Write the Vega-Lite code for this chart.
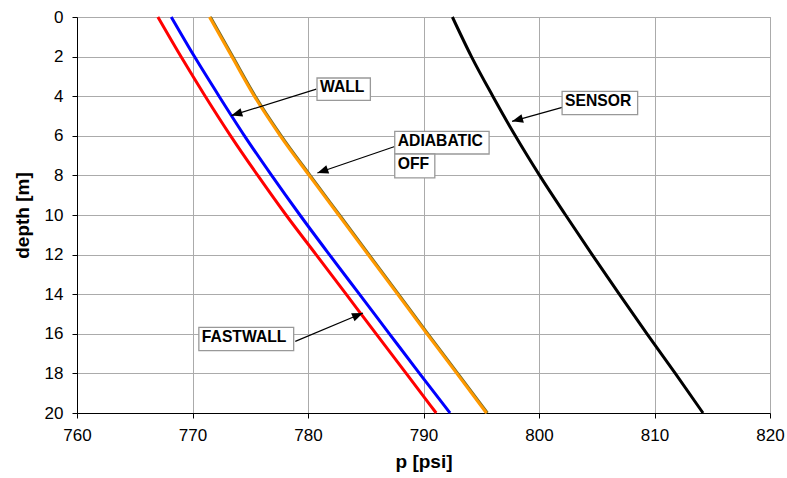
{
  "$schema": "https://vega.github.io/schema/vega-lite/v6.json",
  "width": 693,
  "height": 396,
  "autosize": {"type": "none"},
  "padding": {"left": 77, "top": 17, "right": 17, "bottom": 65},
  "config": {
    "font": "Liberation Sans",
    "view": {"stroke": "#a0a0a0", "strokeWidth": 1},
    "axis": {
      "domainColor": "#000000",
      "domainWidth": 1,
      "tickColor": "#000000",
      "tickSize": 5,
      "labelFontSize": 17,
      "labelColor": "#000000",
      "labelFont": "Liberation Sans",
      "labelFlush": false,
      "gridColor": "#ababab",
      "gridWidth": 1,
      "titleFont": "Liberation Sans",
      "titleFontSize": 19,
      "titleFontWeight": "bold",
      "titleColor": "#000000"
    }
  },
  "datasets": {
    "profiles": [
      {"series": "ADIABATIC", "depth": 0, "p": 771.55},
      {"series": "ADIABATIC", "depth": 2, "p": 773.48},
      {"series": "ADIABATIC", "depth": 4, "p": 775.43},
      {"series": "ADIABATIC", "depth": 6, "p": 777.68},
      {"series": "ADIABATIC", "depth": 8, "p": 780.18},
      {"series": "ADIABATIC", "depth": 10, "p": 782.73},
      {"series": "ADIABATIC", "depth": 12, "p": 785.28},
      {"series": "ADIABATIC", "depth": 14, "p": 787.83},
      {"series": "ADIABATIC", "depth": 16, "p": 790.38},
      {"series": "ADIABATIC", "depth": 18, "p": 792.96},
      {"series": "ADIABATIC", "depth": 20, "p": 795.53},
      {"series": "OFF", "depth": 0, "p": 771.47},
      {"series": "OFF", "depth": 2, "p": 773.4},
      {"series": "OFF", "depth": 4, "p": 775.35},
      {"series": "OFF", "depth": 6, "p": 777.6},
      {"series": "OFF", "depth": 8, "p": 780.1},
      {"series": "OFF", "depth": 10, "p": 782.65},
      {"series": "OFF", "depth": 12, "p": 785.2},
      {"series": "OFF", "depth": 14, "p": 787.75},
      {"series": "OFF", "depth": 16, "p": 790.3},
      {"series": "OFF", "depth": 18, "p": 792.88},
      {"series": "OFF", "depth": 20, "p": 795.45},
      {"series": "WALL", "depth": 0, "p": 768.16},
      {"series": "WALL", "depth": 2, "p": 770.17},
      {"series": "WALL", "depth": 4, "p": 772.3},
      {"series": "WALL", "depth": 6, "p": 774.5},
      {"series": "WALL", "depth": 8, "p": 776.85},
      {"series": "WALL", "depth": 10, "p": 779.3},
      {"series": "WALL", "depth": 12, "p": 781.85},
      {"series": "WALL", "depth": 14, "p": 784.45},
      {"series": "WALL", "depth": 16, "p": 787.05},
      {"series": "WALL", "depth": 18, "p": 789.65},
      {"series": "WALL", "depth": 20, "p": 792.3},
      {"series": "FASTWALL", "depth": 0, "p": 767.0},
      {"series": "FASTWALL", "depth": 2, "p": 769.0},
      {"series": "FASTWALL", "depth": 4, "p": 771.1},
      {"series": "FASTWALL", "depth": 6, "p": 773.3},
      {"series": "FASTWALL", "depth": 8, "p": 775.65},
      {"series": "FASTWALL", "depth": 10, "p": 778.1},
      {"series": "FASTWALL", "depth": 12, "p": 780.7},
      {"series": "FASTWALL", "depth": 14, "p": 783.3},
      {"series": "FASTWALL", "depth": 16, "p": 785.9},
      {"series": "FASTWALL", "depth": 18, "p": 788.5},
      {"series": "FASTWALL", "depth": 20, "p": 791.1},
      {"series": "SENSOR", "depth": 0, "p": 792.5},
      {"series": "SENSOR", "depth": 2, "p": 794.15},
      {"series": "SENSOR", "depth": 4, "p": 796.0},
      {"series": "SENSOR", "depth": 6, "p": 797.95},
      {"series": "SENSOR", "depth": 8, "p": 800.05},
      {"series": "SENSOR", "depth": 10, "p": 802.3},
      {"series": "SENSOR", "depth": 12, "p": 804.6},
      {"series": "SENSOR", "depth": 14, "p": 806.95},
      {"series": "SENSOR", "depth": 16, "p": 809.35},
      {"series": "SENSOR", "depth": 18, "p": 811.8},
      {"series": "SENSOR", "depth": 20, "p": 814.2}
    ],
    "labels": [
      {"label": "WALL", "p0": 780.78, "p1": 785.4, "d0": 3.08, "d1": 4.21},
      {"label": "ADIABATIC", "p0": 787.51, "p1": 795.68, "d0": 5.78, "d1": 6.92},
      {"label": "OFF", "p0": 787.51, "p1": 790.98, "d0": 6.92, "d1": 8.13},
      {"label": "SENSOR", "p0": 802.0, "p1": 808.54, "d0": 3.76, "d1": 4.93},
      {"label": "FASTWALL", "p0": 770.55, "p1": 778.76, "d0": 15.68, "d1": 16.85}
    ],
    "arrows": [
      {"target": "WALL", "ps": 780.72, "ds": 3.64, "pe": 773.36, "de": 4.98},
      {"target": "ADIABATIC", "ps": 787.51, "ds": 6.54, "pe": 780.81, "de": 7.88},
      {"target": "SENSOR", "ps": 802.09, "ds": 4.55, "pe": 797.67, "de": 5.27},
      {"target": "FASTWALL", "ps": 778.9, "ds": 16.38, "pe": 784.76, "de": 14.95}
    ]
  },
  "layer": [
    {
      "data": {"name": "profiles"},
      "mark": {"type": "line", "strokeWidth": 3, "interpolate": "monotone"},
      "encoding": {
        "x": {
          "field": "p",
          "type": "quantitative",
          "scale": {"domain": [760, 820], "nice": false, "zero": false},
          "axis": {
            "values": [760, 770, 780, 790, 800, 810, 820],
            "title": "p [psi]",
            "labelOverlap": false,
            "labelPadding": 9,
            "titlePadding": 9
          }
        },
        "y": {
          "field": "depth",
          "type": "quantitative",
          "scale": {"domain": [0, 20], "reverse": true, "nice": false},
          "axis": {
            "values": [0, 2, 4, 6, 8, 10, 12, 14, 16, 18, 20],
            "tickCount": 11,
            "title": "depth [m]",
            "labelOverlap": false,
            "labelBound": false,
            "labelPadding": 9,
            "titlePadding": 12
          }
        },
        "color": {
          "field": "series",
          "type": "nominal",
          "scale": {
            "domain": ["ADIABATIC", "OFF", "WALL", "FASTWALL", "SENSOR"],
            "range": ["#6f6a2c", "#ff9900", "#0000ff", "#ff0000", "#000000"]
          },
          "legend": null
        },
        "order": {"field": "depth", "type": "quantitative"}
      }
    },
    {
      "data": {"name": "arrows"},
      "mark": {"type": "rule", "color": "#000000", "strokeWidth": 1.2},
      "encoding": {
        "x": {"field": "ps", "type": "quantitative"},
        "y": {"field": "ds", "type": "quantitative"},
        "x2": {"field": "pe"},
        "y2": {"field": "de"}
      }
    },
    {
      "data": {"name": "arrows"},
      "transform": [
        {"calculate": "atan2((datum.pe - datum.ps) * 693 / 60, -(datum.de - datum.ds) * 396 / 20) * 180 / PI", "as": "heading"}
      ],
      "mark": {
        "type": "point",
        "shape": "M0,0L-0.4,1L0.4,1Z",
        "size": 484,
        "filled": true,
        "color": "#000000",
        "opacity": 1,
        "strokeWidth": 0
      },
      "encoding": {
        "x": {"field": "pe", "type": "quantitative"},
        "y": {"field": "de", "type": "quantitative"},
        "angle": {"field": "heading", "type": "quantitative", "scale": null}
      }
    },
    {
      "data": {"name": "labels"},
      "mark": {"type": "rect", "fill": "#ffffff", "stroke": "#999999", "strokeWidth": 1.3},
      "encoding": {
        "x": {"field": "p0", "type": "quantitative"},
        "x2": {"field": "p1"},
        "y": {"field": "d0", "type": "quantitative"},
        "y2": {"field": "d1"}
      }
    },
    {
      "data": {"name": "labels"},
      "transform": [{"calculate": "(datum.d0 + datum.d1) / 2", "as": "dm"}],
      "mark": {
        "type": "text",
        "align": "left",
        "baseline": "middle",
        "dx": 3,
        "dy": -2,
        "fontSize": 15.7,
        "fontWeight": "bold",
        "font": "Liberation Sans",
        "color": "#000000"
      },
      "encoding": {
        "x": {"field": "p0", "type": "quantitative"},
        "y": {"field": "dm", "type": "quantitative"},
        "text": {"field": "label"}
      }
    }
  ]
}
